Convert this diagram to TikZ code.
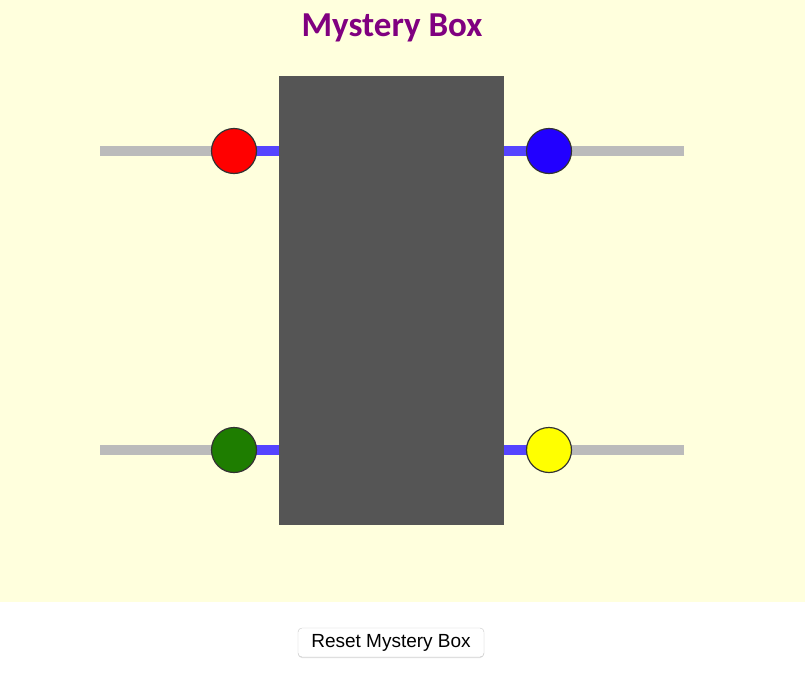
\documentclass[tikz,border=0pt]{standalone}
\usepackage{fontspec}
\newfontfamily\titlefont{Carlito}
\newfontfamily\buttonfont{Liberation Sans}
\usetikzlibrary{positioning}
\usetikzlibrary{shadows}
\definecolor{bgyellow}{RGB}{255,255,221}
\definecolor{titlepurple}{RGB}{128,0,128}
\definecolor{boxgray}{RGB}{85,85,85}
\definecolor{wiregray}{RGB}{187,187,187}
\definecolor{wireblue}{RGB}{85,68,255}
\definecolor{termred}{RGB}{255,0,0}
\definecolor{termblue}{RGB}{34,0,255}
\definecolor{termgreen}{RGB}{30,125,0}
\definecolor{termyellow}{RGB}{255,255,0}
\definecolor{btnborder}{RGB}{200,200,200}

\begin{document}
\begin{tikzpicture}[x=1pt, y=-1pt, every node/.style={inner sep=0pt},
    terminal/.style={circle, draw=black!80, line width=1.2pt, minimum size=45pt},
    outwire/.style={wiregray, line width=10.5pt},
    inwire/.style={wireblue, line width=10.5pt}]
    \fill[bgyellow] (0,0) rectangle (805,602);
    \useasboundingbox (0,0) rectangle (805,677);
    \node[anchor=base, text=titlepurple, font=\titlefont\bfseries\fontsize{35}{40}\selectfont] (title) at (392,37) {Mystery Box};
    \node[fill=boxgray, minimum width=225pt, minimum height=449pt] (box) at (391.5,300.5) {};
    % terminals on the left
    \foreach \nm/\col/\y in {red/termred/151, green/termgreen/450} {
        \coordinate (\nm c) at (234,\y);
        \coordinate (\nm end) at (100,\y);
        \draw[outwire] (\nm end) -- (\nm c);
        \draw[inwire] (\nm c) -- (\nm c -| box.west);
        \node[terminal, fill=\col] (\nm) at (\nm c) {};
    }
    % terminals on the right
    \foreach \nm/\col/\y in {blue/termblue/151, yellow/termyellow/450} {
        \coordinate (\nm c) at (549,\y);
        \coordinate (\nm end) at (684,\y);
        \draw[outwire] (\nm end) -- (\nm c);
        \draw[inwire] (\nm c) -- (\nm c -| box.east);
        \node[terminal, fill=\col] (\nm) at (\nm c) {};
    }
    \node[draw=btnborder, fill=white, rounded corners=4pt, minimum width=186pt, minimum height=29pt,
        drop shadow={shadow xshift=0pt, shadow yshift=-1pt, opacity=0.25},
        font=\buttonfont\fontsize{19}{22}\selectfont] (reset) at (391,642.5) {Reset Mystery Box};
\end{tikzpicture}
\end{document}
